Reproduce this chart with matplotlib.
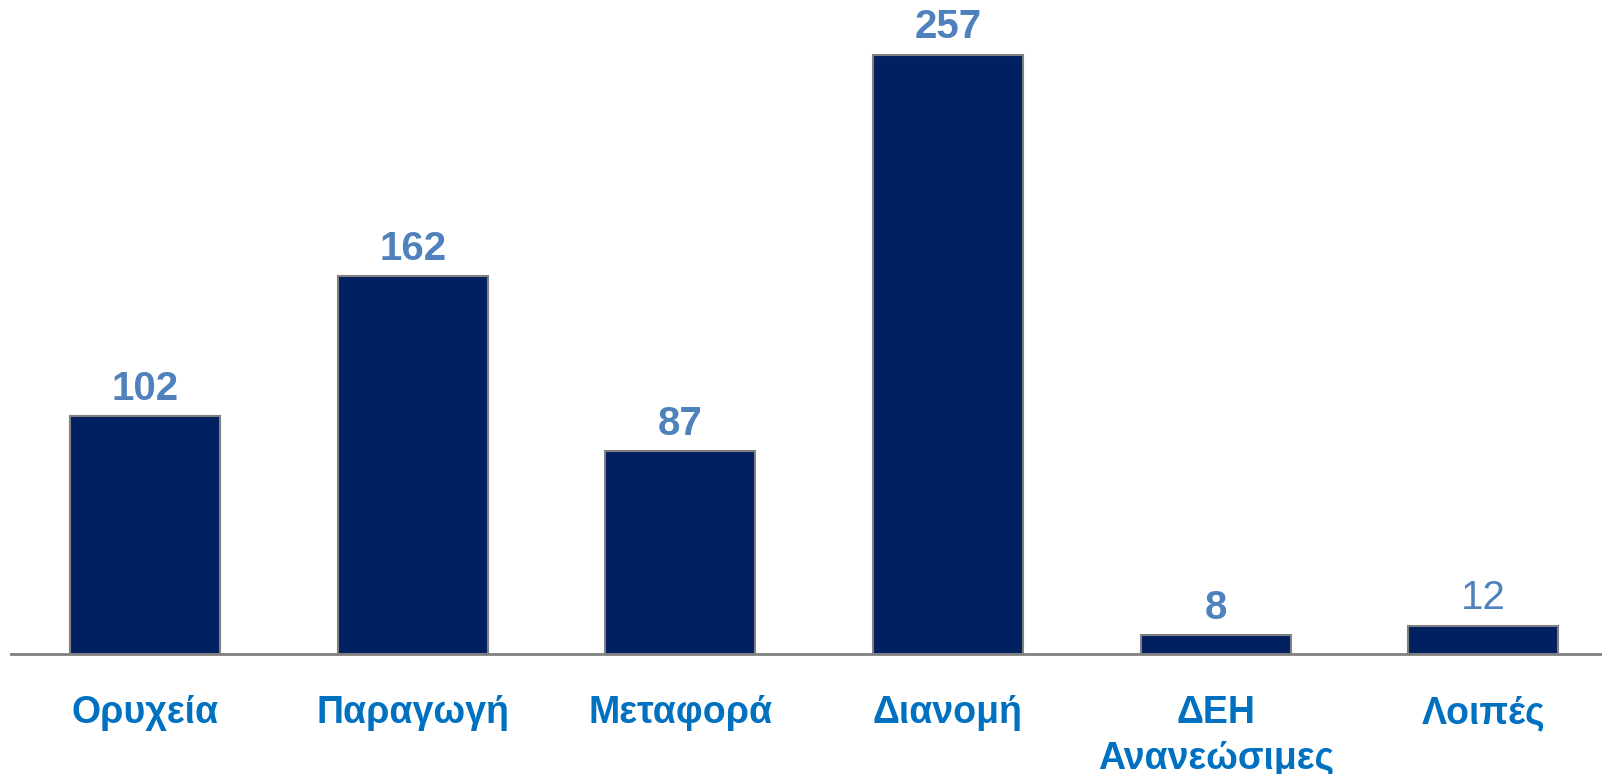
import matplotlib.pyplot as plt

categories = ["Ορυχεία", "Παραγωγή", "Μεταφορά", "Διανομή", "ΔΕΗ\nΑνανεώσιμες", "Λοιπές"]
values = [102, 162, 87, 257, 8, 12]
value_weights = ["bold", "bold", "bold", "bold", "bold", "normal"]

plt.rcParams['font.family'] = ['Liberation Sans', 'DejaVu Sans']

fig = plt.figure(figsize=(16.02, 7.74), dpi=100)
ax = fig.add_axes([11 / 1602, 120.3 / 774, 1 - 11 / 1602, 653.7 / 774])

x = range(len(categories))
ax.bar(x, values, width=0.56, color='#002060', edgecolor='#808080', linewidth=1.5)

for xi, v, w in zip(x, values, value_weights):
    ax.annotate(str(v), (xi, v), xytext=(0, 6), textcoords='offset points',
                ha='center', va='bottom', fontsize=29, fontweight=w, color='#4F81BD')

ax.set_xlim(-0.5, 5.443)
ax.set_ylim(0, 280.5)
ax.set_xticks(list(x))
ax.set_xticklabels(categories, fontsize=27, fontweight='bold', color='#0070C0', linespacing=1.35)
ax.tick_params(axis='x', length=0, pad=30)
ax.set_yticks([])
for s in ['top', 'left', 'right']:
    ax.spines[s].set_visible(False)
ax.spines['bottom'].set_color('#808080')
ax.spines['bottom'].set_linewidth(2)

fig.savefig('out.png', dpi=100)
